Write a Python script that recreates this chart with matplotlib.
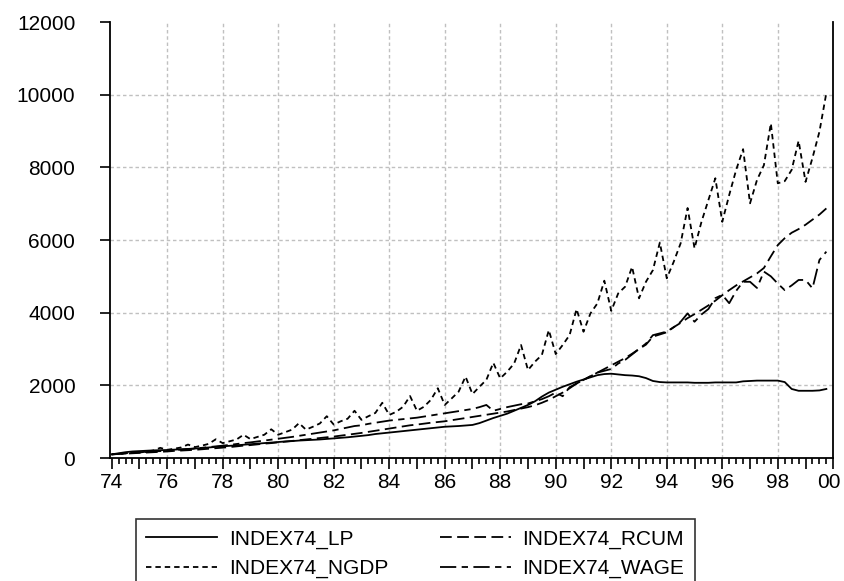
import matplotlib
matplotlib.use("Agg")
import matplotlib.pyplot as plt
import matplotlib.transforms as mtransforms
from matplotlib.ticker import FixedLocator, NullFormatter, FixedFormatter

plt.rcParams['font.family'] = ['Liberation Sans', 'DejaVu Sans']

years = list(range(1974, 2000))
quarters = [y + q / 4.0 for y in years for q in range(4)]

index74_lp = [
    100, 130, 160, 180,  190, 200, 210, 215,  220, 230, 240, 250,  260, 275, 290, 305,
    320, 335, 350, 365,  380, 395, 410, 425,  440, 455, 465, 480,  490, 500, 510, 525,
    540, 555, 570, 590,  610, 630, 660, 680,  700, 720, 740, 760,  780, 800, 820, 840,
    860, 870, 880, 895,  910, 960, 1030, 1100,  1160, 1220, 1300, 1380,  1460, 1560, 1690, 1800,
    1880, 1960, 2030, 2100,  2160, 2220, 2280, 2310,  2320, 2300, 2280, 2270,  2250, 2200, 2120, 2090,
    2080, 2080, 2080, 2080,  2070, 2070, 2070, 2080,  2080, 2080, 2080, 2110,  2120, 2130, 2130, 2130,
    2130, 2090, 1900, 1850,  1850, 1850, 1860, 1900,
]
index74_ngdp = [
    100, 112, 125, 165,  150, 175, 205, 280,  225, 255, 290, 370,  300, 340, 390, 515,
    410, 460, 510, 640,  520, 580, 640, 790,  640, 710, 780, 960,  780, 860, 950, 1150,
    920, 1010, 1080, 1300,  1050, 1150, 1240, 1520,  1185, 1270, 1410, 1705,  1300, 1410, 1600, 1920,
    1460, 1640, 1825, 2240,  1760, 1960, 2150, 2620,  2190, 2375, 2600, 3110,  2420, 2650, 2835, 3520,
    2860, 3110, 3385, 4100,  3475, 3980, 4255, 4880,  4050, 4530, 4715, 5260,  4395, 4850, 5170, 5930,
    4945, 5400, 5910, 6880,  5770, 6500, 7100, 7700,  6500, 7240, 7930, 8500,  7010, 7650, 8060, 9210,
    7560, 7620, 7930, 8730,  7600, 8260, 8980, 10050,
]
index74_rcum = [
    100, 110, 120, 130,  140, 150, 160, 170,  180, 195, 205, 215,  225, 240, 255, 270,
    285, 300, 320, 340,  355, 375, 395, 410,  430, 450, 470, 490,  510, 530, 550, 570,
    590, 615, 640, 665,  690, 720, 750, 780,  810, 840, 870, 900,  920, 945, 970, 990,
    1010, 1040, 1070, 1100,  1130, 1160, 1190, 1220,  1250, 1280, 1320, 1360,  1400, 1450, 1520, 1600,
    1700, 1800, 1920, 2050,  2150, 2250, 2350, 2450,  2550, 2650, 2750, 2870,  3000, 3120, 3340, 3400,
    3460, 3600, 3720, 3850,  3960, 4080, 4200, 4330,  4480, 4620, 4750, 4860,  4970, 5080, 5230, 5550,
    5860, 6050, 6200, 6300,  6420, 6560, 6700, 6870,
]
index74_wage = [
    100, 115, 130, 145,  155, 165, 180, 190,  200, 215, 230, 245,  260, 280, 300, 320,
    340, 360, 385, 410,  430, 455, 480, 505,  530, 555, 580, 610,  640, 670, 700, 730,
    760, 800, 840, 880,  900, 940, 970, 1000,  1030, 1050, 1070, 1090,  1110, 1140, 1170, 1200,
    1230, 1260, 1290, 1320,  1350, 1400, 1460, 1300,  1350, 1400, 1440, 1480,  1500, 1560, 1620, 1700,
    1800, 1700, 1950, 2050,  2150, 2250, 2350, 2400,  2450, 2600, 2700, 2850,  3000, 3150, 3380, 3430,
    3480, 3600, 3750, 3980,  3750, 3950, 4100, 4400,  4490, 4260, 4600, 4850,  4850, 4680, 5130, 5000,
    4800, 4620, 4750, 4900,  4900, 4670, 5450, 5680,
]

y_ticks = [0, 2000, 4000, 6000, 8000, 10000, 12000]
x_major = list(range(1974, 2001))
x_label_years = list(range(1974, 2001, 2))

fig = plt.figure(figsize=(8.44, 5.81), dpi=100)
ax = fig.add_axes([110 / 844, 1 - 458 / 581, (833.3 - 110) / 844, (458 - 22) / 581])

lw = 1.3
ax.plot(quarters, index74_lp, color='black', lw=lw, label='INDEX74_LP')
ax.plot(quarters, index74_ngdp, color='black', lw=lw, dashes=(3.0, 2.2), label='INDEX74_NGDP')
ax.plot(quarters, index74_rcum, color='black', lw=lw, dashes=(6.5, 3.0), label='INDEX74_RCUM')
ax.plot(quarters, index74_wage, color='black', lw=lw, dashes=(9.0, 3.0, 3.5, 3.0), label='INDEX74_WAGE')

ax.set_xlim(1973.94, 2000.0)
ax.set_ylim(0, 12000)

for yv in y_ticks[1:-1]:
    ax.axhline(yv, color='#c0c0c0', lw=1.0, dashes=(2.5, 2.0), zorder=0)
for xv in x_label_years[1:-1]:
    ax.axvline(xv, color='#c0c0c0', lw=1.0, dashes=(2.5, 2.0), zorder=0)

ax.set_yticks(y_ticks)
ax.set_yticklabels([str(v) for v in y_ticks])
ax.xaxis.set_major_locator(FixedLocator(x_major))
ax.xaxis.set_major_formatter(FixedFormatter([("%02d" % (y % 100)) if y in x_label_years else "" for y in x_major]))
ax.xaxis.set_minor_locator(FixedLocator([q for q in quarters if q not in x_major]))
ax.xaxis.set_minor_formatter(NullFormatter())

ax.tick_params(axis='y', direction='out', length=7, width=1.2, pad=18, labelsize=15)
ax.tick_params(axis='x', which='major', direction='out', length=8, width=1.2, pad=2.5, labelsize=15)
ax.tick_params(axis='x', which='minor', direction='out', length=4.5, width=1.2)

# keep the last year label inside the picture
last = ax.get_xticklabels()[-1]
last.set_transform(last.get_transform() + mtransforms.ScaledTranslation(-4 / 100, 0, fig.dpi_scale_trans))

ax.spines['top'].set_visible(False)
for s in ['left', 'bottom', 'right']:
    ax.spines[s].set_linewidth(1.3)
    ax.spines[s].set_color('black')

h, l = ax.get_legend_handles_labels()
leg = fig.legend(h, l, ncol=2,
                 loc='upper left', bbox_to_anchor=(136 / 844, 1 - 519 / 581),
                 frameon=True, fancybox=False, edgecolor='black', fontsize=15,
                 handlelength=3.4, handletextpad=0.55, columnspacing=2.5,
                 labelspacing=0.5, borderpad=0.5, borderaxespad=0)
leg.get_frame().set_linewidth(1.2)

fig.savefig('out.png', dpi=100)
